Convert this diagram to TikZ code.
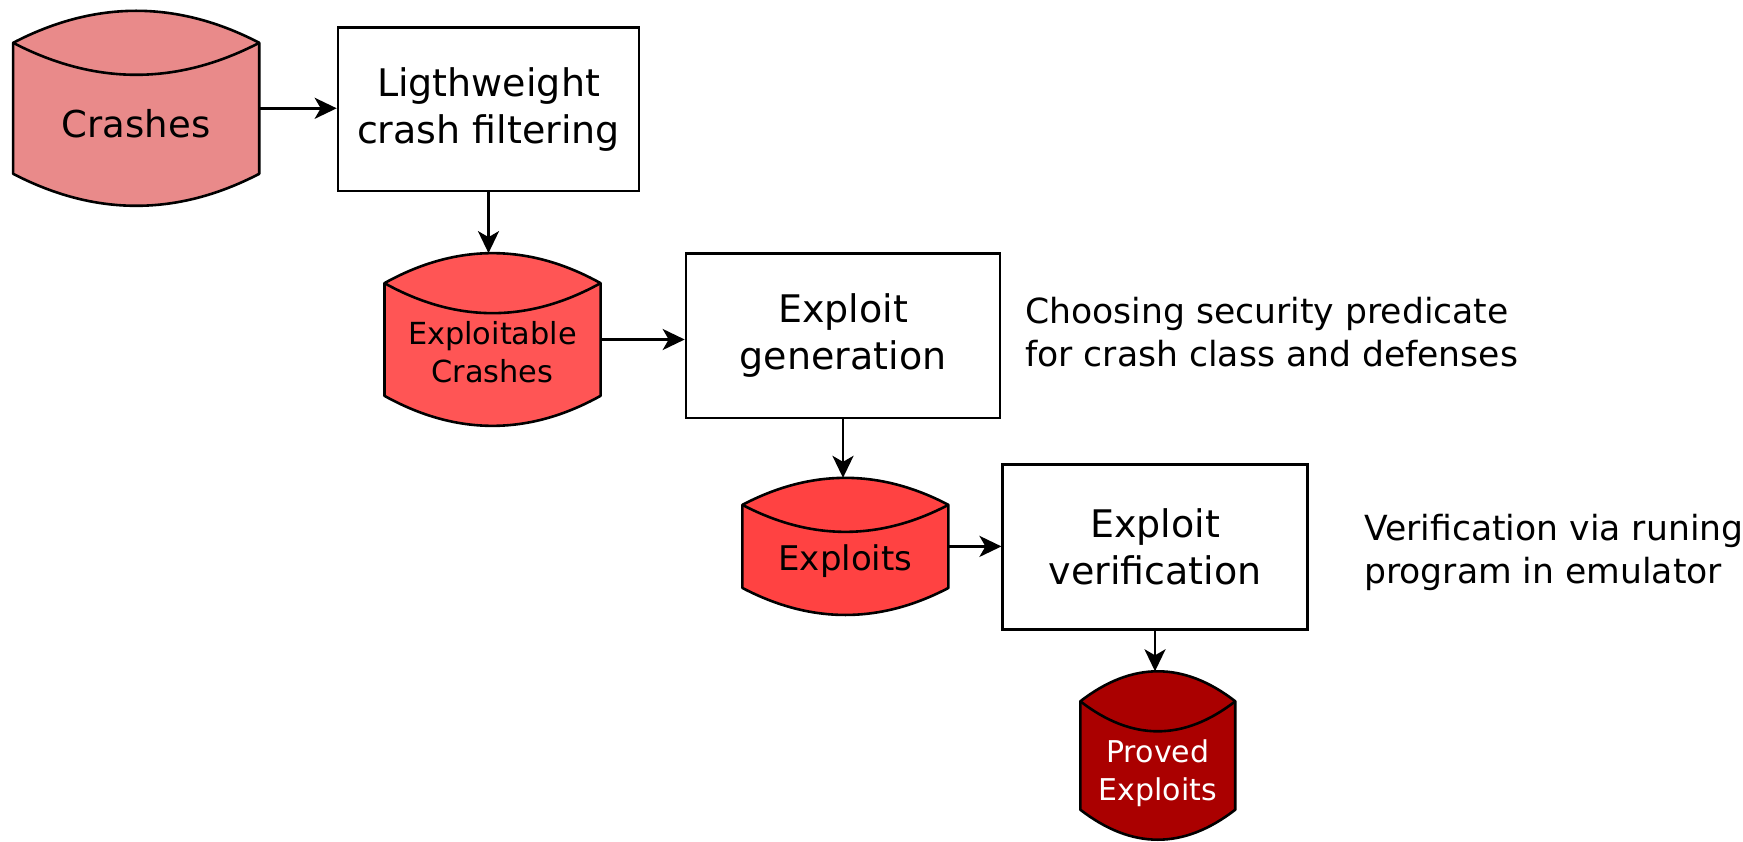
\documentclass[tikz,border=0pt]{standalone}
\usepackage{fontspec}
\setmainfont{DejaVu Sans}
\usetikzlibrary{arrows.meta,calc}

\definecolor{crashfill}{HTML}{E98A8A}
\definecolor{exploitablefill}{HTML}{FF5555}
\definecolor{exploitsfill}{HTML}{FF4242}
\definecolor{provedfill}{HTML}{AA0000}

% text inside a storage drum, lowered below the drum's lid
\newcommand{\drumlabel}[2]{\raisebox{-#1pt}[0pt][0pt]{\begin{tabular}{@{}c@{}}#2\end{tabular}}}

% outline of a storage drum around node #1, arc depth #2, fill colour #3
\newcommand{\drumoutline}[3]{%
  \filldraw[line width=2.6pt, fill=#3, line join=round]
    let \p1=(#1.north west), \p2=(#1.south east), \n1={(\x2-\x1)/3} in
    (\x1,\y1-#2pt) .. controls (\x1+\n1,\y1+#2pt/3) and (\x2-\n1,\y1+#2pt/3) .. (\x2,\y1-#2pt)
    -- (\x2,\y2+#2pt) .. controls (\x2-\n1,\y2-#2pt/3) and (\x1+\n1,\y2-#2pt/3) .. (\x1,\y2+#2pt)
    -- cycle;
  \draw[line width=2.6pt]
    let \p1=(#1.north west), \p2=(#1.south east), \n1={(\x2-\x1)/3} in
    (\x1,\y1-#2pt) .. controls (\x1+\n1,\y1-7*#2pt/3) and (\x2-\n1,\y1-7*#2pt/3) .. (\x2,\y1-#2pt);
}

\tikzset{
  box/.style={draw, line width=2.6pt, fill=white, align=center, inner sep=0pt,
    font=\fontsize{38}{47}\selectfont},
  drum/.style={inner sep=0pt},
  flow/.style={line width=2.8pt, -{Stealth[length=22pt, width=21pt, inset=6pt]}},
  note/.style={anchor=west, align=left, inner sep=0pt, font=\fontsize{34.6}{43}\selectfont},
}

\begin{document}
\begin{tikzpicture}[x=1pt, y=-1pt]
\useasboundingbox (0,0) rectangle (1743,842);

% drums (shape holders, text drawn after the outlines)
\path (136.2,108.3) node[drum, minimum width=245.7pt, minimum height=194.6pt] (crashes) {};
\path (492.5,339.5) node[drum, minimum width=215.7pt, minimum height=172.3pt] (exploitable) {};
\path (845.4,546.4) node[drum, minimum width=205.6pt, minimum height=136.7pt] (exploits) {};
\path (1157.8,755.5) node[drum, minimum width=154.5pt, minimum height=168pt] (proved) {};

\drumoutline{crashes}{32}{crashfill}
\drumoutline{exploitable}{30}{exploitablefill}
\drumoutline{exploits}{27}{exploitsfill}
\drumoutline{proved}{30}{provedfill}

\node[font=\fontsize{37}{46}\selectfont] (crashestext) at (crashes.center) {\drumlabel{26}{Crashes}};
\node[font=\fontsize{30.4}{38}\selectfont] (exploitabletext) at (exploitable.center) {\drumlabel{23}{Exploitable\\Crashes}};
\node[font=\fontsize{34}{42}\selectfont] (exploitstext) at (exploits.center) {\drumlabel{22}{Exploits}};
\node[font=\fontsize{30}{38}\selectfont, text=white] (provedtext) at (proved.center) {\drumlabel{25}{Proved\\Exploits}};

% processing steps
\node[box, minimum width=301pt, minimum height=163.4pt] (filter) at (488.5,109.5) {Ligthweight\\crash filtering};
\node[box, minimum width=314pt, minimum height=164.6pt] (generate) at (843,335.7) {Exploit\\generation};
\node[box, minimum width=304.5pt, minimum height=164.6pt] (verify) at (1155,547) {Exploit\\verification};

% side notes
\node[note] (genote) at (1025,332.4) {Choosing security predicate\\for crash class and defenses};
\node[note] (vernote) at (1364,552.5) {Verification via runing\\program in emulator};

% flow
\draw[flow] (crashes.east) -- (crashes.east -| filter.west);
\draw[flow] (filter.south) -- (filter.south |- exploitable.north);
\draw[flow] (exploitable.east) -- (exploitable.east -| generate.west);
\draw[flow] (generate.south) -- (generate.south |- exploits.north);
\draw[flow] (exploits.east) -- (exploits.east -| verify.west);
\draw[flow] (verify.south) -- (verify.south |- proved.north);
\end{tikzpicture}
\end{document}
